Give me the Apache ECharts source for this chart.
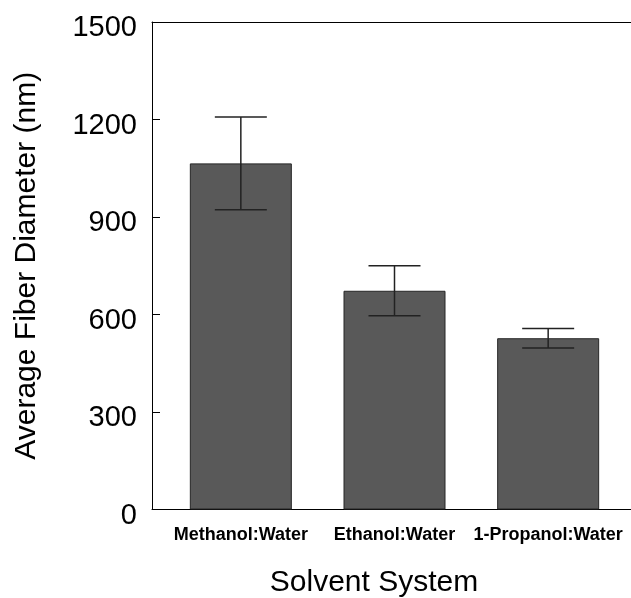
<!DOCTYPE html>
<html>
<head>
<meta charset="utf-8">
<script src="https://cdn.jsdelivr.net/npm/echarts@6/dist/echarts.min.js"></script>
<style>
html,body{margin:0;padding:0;background:#fff;}
#chart{width:631px;height:598px;}
</style>
</head>
<body>
<div id="chart"></div>
<script>
const categories = ['Methanol:Water', 'Ethanol:Water', '1-Propanol:Water'];
const meanValues = [1065, 673, 527];
const errorValues = [143, 77, 30];
const yTicks = [0, 300, 600, 900, 1200, 1500];

const FONT = "'Liberation Sans', Arial, Helvetica, sans-serif";
const chart = echarts.init(document.getElementById('chart'), null, {renderer: 'canvas'});

const errData = categories.map((c, i) => [i, meanValues[i], errorValues[i]]);
const yMin = yTicks[0], yMax = yTicks[yTicks.length - 1];

const option = {
  animation: false,
  backgroundColor: '#ffffff',
  grid: [
    {left: 152, right: 0, top: 22, bottom: 88.5, containLabel: false, outerBoundsMode: 'none'},
    {left: 164, right: 6, top: 22, bottom: 88.5, containLabel: false, outerBoundsMode: 'none'},
    {left: 152, right: 0, top: 28, bottom: 82.5, containLabel: false, outerBoundsMode: 'none'}
  ],
  xAxis: [
    {gridIndex: 0, type: 'category', data: [''], position: 'bottom',
     axisLine: {show: true, lineStyle: {color: '#000', width: 1}},
     axisTick: {show: false}, axisLabel: {show: false}, splitLine: {show: false}},
    {gridIndex: 0, type: 'category', data: [''], position: 'top',
     axisLine: {show: true, lineStyle: {color: '#000', width: 1}},
     axisTick: {show: false}, axisLabel: {show: false}, splitLine: {show: false}},
    {gridIndex: 1, type: 'category', data: categories,
     axisLine: {show: false}, axisTick: {show: false},
     axisLabel: {show: true, fontFamily: FONT, fontSize: 18, fontWeight: 'bold', color: '#000', margin: 17, interval: 0, hideOverlap: false},
     name: 'Solvent System', nameLocation: 'middle', nameGap: 58,
     nameTextStyle: {fontFamily: FONT, fontSize: 30, color: '#000', padding: [0, 41, 0, 0]}},
    {gridIndex: 2, type: 'category', data: [''], show: false}
  ],
  yAxis: [
    {gridIndex: 0, type: 'value', min: yMin, max: yMax, interval: 300,
     axisLine: {show: true, lineStyle: {color: '#000', width: 1}},
     axisTick: {show: true, inside: true, length: 8, lineStyle: {color: '#000'}},
     axisLabel: {show: false},
     splitLine: {show: false},
     name: 'Average Fiber Diameter (nm)', nameLocation: 'middle', nameGap: 110,
     nameTextStyle: {fontFamily: FONT, fontSize: 30, color: '#000'}},
    {gridIndex: 1, type: 'value', min: yMin, max: yMax, interval: 300, show: false},
    {gridIndex: 2, type: 'value', min: yMin, max: yMax, interval: 300,
     axisLine: {show: false}, axisTick: {show: false}, splitLine: {show: false},
     axisLabel: {fontFamily: FONT, fontSize: 29, color: '#000', margin: 15,
                 formatter: function (v) { return String(v); }}}
  ],
  series: [
    {type: 'bar', xAxisIndex: 2, yAxisIndex: 1, data: meanValues, barWidth: 102,
     itemStyle: {color: '#595959', borderColor: '#262626', borderWidth: 1}},
    {type: 'custom', xAxisIndex: 2, yAxisIndex: 1, data: errData, z: 10,
     renderItem: function (params, api) {
       const x = api.value(0), m = api.value(1), e = api.value(2);
       const hi = api.coord([x, m + e]);
       const lo = api.coord([x, m - e]);
       const hw = 26;
       const st = {stroke: '#222', lineWidth: 1.5};
       return {type: 'group', children: [
         {type: 'line', shape: {x1: hi[0], y1: hi[1], x2: lo[0], y2: lo[1]}, style: st},
         {type: 'line', shape: {x1: hi[0] - hw, y1: hi[1], x2: hi[0] + hw, y2: hi[1]}, style: st},
         {type: 'line', shape: {x1: lo[0] - hw, y1: lo[1], x2: lo[0] + hw, y2: lo[1]}, style: st}
       ]};
     }}
  ]
};
chart.setOption(option);
</script>
</body>
</html>
